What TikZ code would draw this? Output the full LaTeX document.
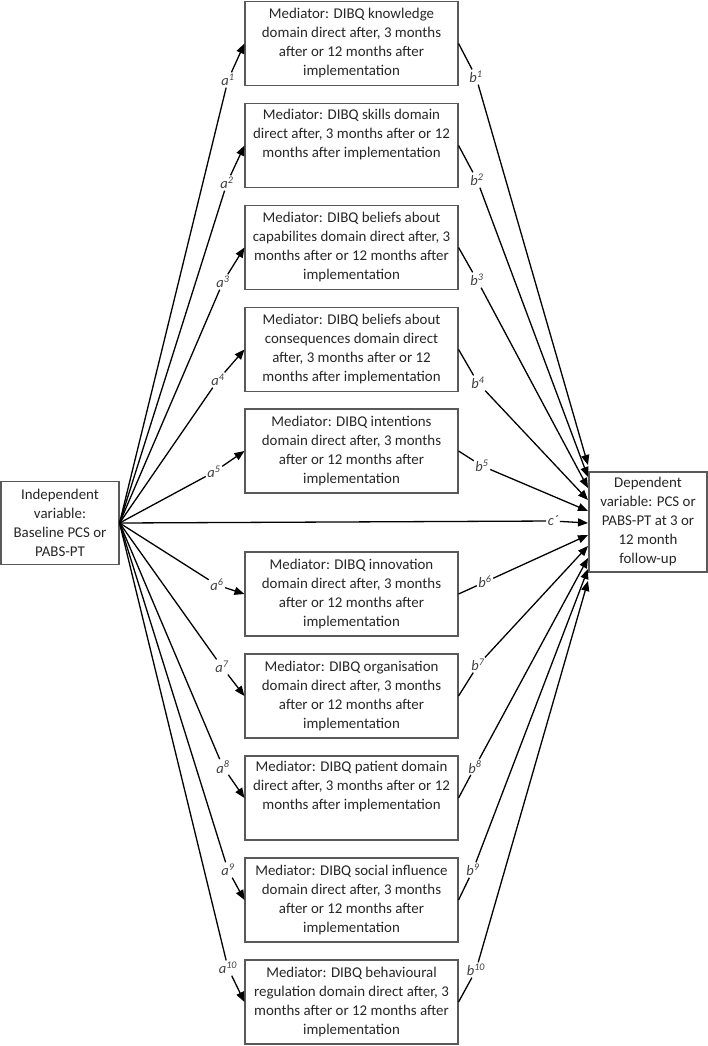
\documentclass[tikz,border=0pt]{standalone}
\usepackage{fontspec}
\setmainfont{Carlito}
\usetikzlibrary{arrows.meta}
\begin{document}
\begin{tikzpicture}[x=1pt,y=-1pt,
  box/.style={draw=black!65, line width=1.1pt, inner sep=0pt, align=center,
    font=\fontsize{14.9}{19}\selectfont, text=black!85},
  med/.style={box, minimum width=213pt, minimum height=84pt},
  lab/.style={font=\fontsize{14.5}{14}\selectfont\itshape, inner sep=1.5pt, text=black!75},
  con/.style={line width=1.3pt},
  arr/.style={con, -{Triangle[length=10pt,width=8pt]}}]
\useasboundingbox (0,0) rectangle (708,1046);

% independent and dependent variables
\node[box, minimum width=118pt, minimum height=83pt] (iv) at (60,523)
  {Independent\\variable:\\Baseline PCS or\\PABS-PT};
\node[box, minimum width=118pt, minimum height=100pt] (dv) at (648,522)
  {Dependent\\variable: PCS or\\PABS-PT at 3 or\\12 month\\follow-up};

% mediators
\node[med] (m1) at (351.5,43.5) {Mediator: DIBQ knowledge\\domain direct after, 3 months\\after or 12 months after\\implementation};
\node[med] (m2) at (351.5,145.5) {Mediator: DIBQ skills domain\\direct after, 3 months after or 12\\months after implementation\\\strut};
\node[med] (m3) at (351.5,247.5) {Mediator: DIBQ beliefs about\\capabilites domain direct after, 3\\months after or 12 months after\\implementation};
\node[med] (m4) at (351.5,349.5) {Mediator: DIBQ beliefs about\\consequences domain direct\\after, 3 months after or 12\\months after implementation};
\node[med] (m5) at (351.5,451) {Mediator: DIBQ intentions\\domain direct after, 3 months\\after or 12 months after\\implementation};
\node[med] (m6) at (351.5,594) {Mediator: DIBQ innovation\\domain direct after, 3 months\\after or 12 months after\\implementation};
\node[med] (m7) at (351.5,696) {Mediator: DIBQ organisation\\domain direct after, 3 months\\after or 12 months after\\implementation};
\node[med] (m8) at (351.5,798) {Mediator: DIBQ patient domain\\direct after, 3 months after or 12\\months after implementation\\\strut};
\node[med] (m9) at (351.5,900) {Mediator: DIBQ social influence\\domain direct after, 3 months\\after or 12 months after\\implementation};
\node[med] (m10) at (351.5,1002) {Mediator: DIBQ behavioural\\regulation domain direct after, 3\\months after or 12 months after\\implementation};

% arrow ends on dependent variable
\coordinate (d1) at (588,465);
\coordinate (d2) at (588,477);
\coordinate (d3) at (588,488);
\coordinate (d4) at (588,500);
\coordinate (d5) at (588,511);
\coordinate (dc) at (588,523);
\coordinate (d6) at (588,535);
\coordinate (d7) at (588,546);
\coordinate (d8) at (588,558);
\coordinate (d9) at (588,569);
\coordinate (d10) at (588,581);

% a labels
\node[lab] (la1) at (228,80) {a\textsuperscript{1}};
\node[lab] (la2) at (227,183) {a\textsuperscript{2}};
\node[lab] (la3) at (223,282) {a\textsuperscript{3}};
\node[lab] (la4) at (218,380) {a\textsuperscript{4}};
\node[lab] (la5) at (214,472) {a\textsuperscript{5}};
\node[lab] (la6) at (217,585) {a\textsuperscript{6}};
\node[lab] (la7) at (222,667) {a\textsuperscript{7}};
\node[lab] (la8) at (223,767) {a\textsuperscript{8}};
\node[lab] (la9) at (228,870) {a\textsuperscript{9}};
\node[lab] (la10) at (228,968) {a\textsuperscript{10}};

% b labels
\node[lab] (lb1) at (476,77) {b\textsuperscript{1}};
\node[lab] (lb2) at (477,180) {b\textsuperscript{2}};
\node[lab] (lb3) at (477,280) {b\textsuperscript{3}};
\node[lab] (lb4) at (478,383) {b\textsuperscript{4}};
\node[lab] (lb5) at (482,466) {b\textsuperscript{5}};
\node[lab] (lb6) at (485,582) {b\textsuperscript{6}};
\node[lab] (lb7) at (478,665) {b\textsuperscript{7}};
\node[lab] (lb8) at (475,767) {b\textsuperscript{8}};
\node[lab] (lb9) at (473,870) {b\textsuperscript{9}};
\node[lab] (lb10) at (476,970) {b\textsuperscript{10}};

\node[lab] (lc) at (553,521) {c´};

% a paths
\foreach \i in {1,...,10}{
  \draw[con] (iv.east) -- (la\i);
  \draw[arr] (la\i) -- (m\i.west);
}
% b paths
\foreach \i in {1,...,10}{
  \draw[con] (m\i.east) -- (lb\i);
  \draw[arr] (lb\i) -- (d\i);
}
% c' path
\draw[con] (iv.east) -- (lc);
\draw[arr] (lc) -- (dc);
\end{tikzpicture}
\end{document}
